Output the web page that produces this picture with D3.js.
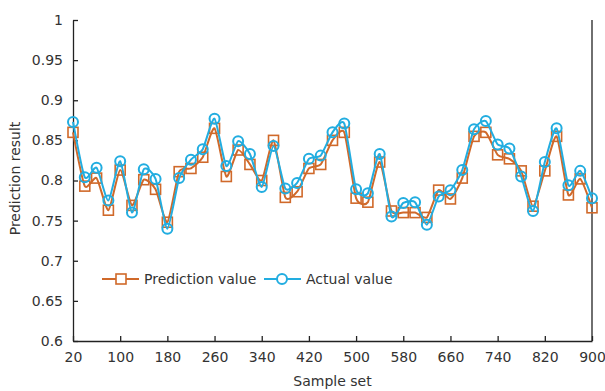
<!DOCTYPE html>
<html>
<head>
<meta charset="utf-8">
<script src="https://cdn.jsdelivr.net/npm/d3@7"></script>
<style>
	body { margin: 0; background: #fff; }
	text { font-family: "DejaVu Sans", Verdana, sans-serif; fill: #333; }
</style>
</head>
<body>
<div id="chart"></div>
<script>
// sample index (x axis)
var samples = [20, 40, 60, 80, 100, 120, 140, 160, 180, 200, 220, 240, 260, 280, 300,
	320, 340, 360, 380, 400, 420, 440, 460, 480, 500, 520, 540, 560, 580, 600,
	620, 640, 660, 680, 700, 720, 740, 760, 780, 800, 820, 840, 860, 880, 900];

var predictionValues = [0.860, 0.793, 0.803, 0.763, 0.813, 0.769, 0.801, 0.789, 0.748, 0.811,
	0.815, 0.829, 0.865, 0.805, 0.838, 0.820, 0.800, 0.850, 0.779, 0.786,
	0.815, 0.820, 0.850, 0.860, 0.778, 0.773, 0.823, 0.762, 0.760, 0.760,
	0.754, 0.788, 0.777, 0.803, 0.855, 0.860, 0.832, 0.827, 0.812, 0.768,
	0.812, 0.855, 0.782, 0.802, 0.766];

var actualValues = [0.873, 0.804, 0.816, 0.775, 0.824, 0.760, 0.814, 0.802, 0.740, 0.803,
	0.826, 0.839, 0.877, 0.818, 0.849, 0.833, 0.792, 0.843, 0.790, 0.797,
	0.827, 0.831, 0.860, 0.871, 0.789, 0.784, 0.833, 0.755, 0.772, 0.773,
	0.745, 0.780, 0.788, 0.813, 0.864, 0.874, 0.845, 0.840, 0.805, 0.762,
	0.823, 0.865, 0.794, 0.812, 0.778];

var xTicks = [20, 100, 180, 260, 340, 420, 500, 580, 660, 740, 820, 900];
var yTicks = [0.6, 0.65, 0.7, 0.75, 0.8, 0.85, 0.9, 0.95, 1];

var orange = "#d0692a",
	blue = "#22ade0";

var margin = { top: 20, right: 13, bottom: 50, left: 73 },
	width = 605 - margin.left - margin.right,
	height = 391 - margin.top - margin.bottom;

var svg = d3.select("#chart")
	.append("svg")
	.attr("width", 605)
	.attr("height", 391)
	.append("g")
	.attr("transform", "translate(" + margin.left + "," + margin.top + ")");

var x = d3.scaleLinear().domain([20, 900]).range([0, width]);
var y = d3.scaleLinear().domain([0.6, 1]).range([height, 0]);

// x axis, ticks pointing inward
var xAxis = svg.append("g")
	.attr("transform", "translate(0," + height + ")")
	.call(d3.axisBottom(x).tickValues(xTicks).tickSize(-5).tickPadding(11).tickSizeOuter(0));
xAxis.selectAll("text").style("font-size", "14px");

// y axis
var yAxis = svg.append("g")
	.call(d3.axisLeft(y).tickValues(yTicks).tickSize(-5).tickPadding(10).tickSizeOuter(0)
		.tickFormat(function (d) { return d3.format("")(+d.toFixed(2)); }));
yAxis.selectAll("text").style("font-size", "14px");

svg.selectAll(".domain, .tick line").attr("stroke", "#222").attr("stroke-width", 1.3);

// right border
svg.append("line")
	.attr("x1", width).attr("x2", width)
	.attr("y1", 0).attr("y2", height)
	.attr("stroke", "#222").attr("stroke-width", 1.3);

// axis titles
svg.append("text")
	.attr("x", width / 2)
	.attr("y", height + 45)
	.attr("text-anchor", "middle")
	.style("font-size", "14px")
	.text("Sample set");

svg.append("text")
	.attr("transform", "translate(" + (20 - margin.left) + "," + (height / 2 - 2) + ") rotate(-90)")
	.attr("text-anchor", "middle")
	.style("font-size", "14px")
	.text("Prediction result");

function drawSeries(values, color, marker) {
	var line = d3.line()
		.x(function (d, i) { return x(samples[i]); })
		.y(function (d) { return y(d); })
		.curve(d3.curveCardinal.tension(0.4));

	svg.append("path")
		.datum(values)
		.attr("fill", "none")
		.attr("stroke", color)
		.attr("stroke-width", 2)
		.attr("d", line);

	var pts = svg.selectAll(".pt-" + marker)
		.data(values)
		.enter();

	if (marker == "square") {
		pts.append("rect")
			.attr("x", function (d, i) { return x(samples[i]) - 5; })
			.attr("y", function (d) { return y(d) - 5; })
			.attr("width", 10)
			.attr("height", 10)
			.attr("fill", "none")
			.attr("stroke", color)
			.attr("stroke-width", 1.6);
	} else {
		pts.append("circle")
			.attr("cx", function (d, i) { return x(samples[i]); })
			.attr("cy", function (d) { return y(d); })
			.attr("r", 5)
			.attr("fill", "none")
			.attr("stroke", color)
			.attr("stroke-width", 2);
	}
}

drawSeries(predictionValues, orange, "square");
drawSeries(actualValues, blue, "circle");

// legend
var legend = svg.append("g")
	.attr("transform", "translate(" + (102 - margin.left) + "," + (279 - margin.top) + ")");

legend.append("line")
	.attr("x1", 0).attr("x2", 37).attr("y1", 0).attr("y2", 0)
	.attr("stroke", orange).attr("stroke-width", 2);
legend.append("rect")
	.attr("x", 14).attr("y", -5).attr("width", 10).attr("height", 10)
	.attr("fill", "white").attr("stroke", orange).attr("stroke-width", 1.6);
legend.append("text")
	.attr("x", 42).attr("y", 5)
	.style("font-size", "14px")
	.text("Prediction value");

legend.append("line")
	.attr("x1", 162).attr("x2", 199).attr("y1", 0).attr("y2", 0)
	.attr("stroke", blue).attr("stroke-width", 2);
legend.append("circle")
	.attr("cx", 180).attr("cy", 0).attr("r", 5)
	.attr("fill", "white").attr("stroke", blue).attr("stroke-width", 2);
legend.append("text")
	.attr("x", 204).attr("y", 5)
	.style("font-size", "14px")
	.text("Actual value");
</script>
</body>
</html>
